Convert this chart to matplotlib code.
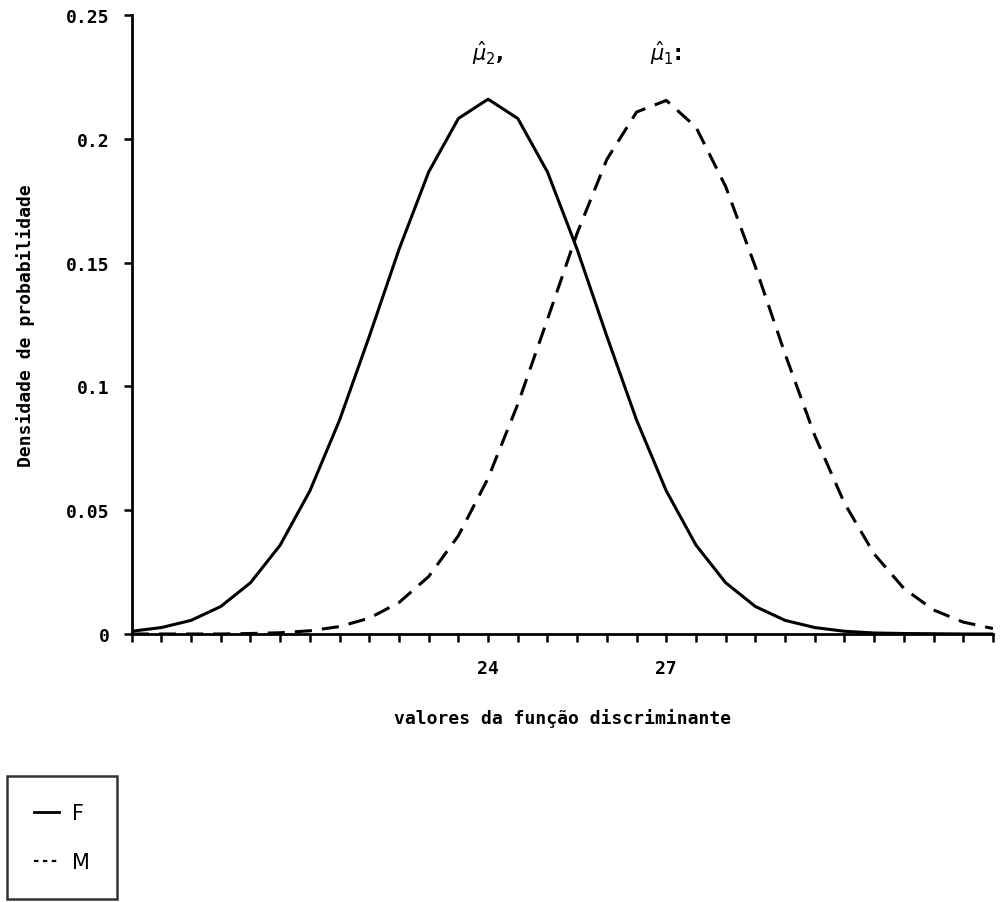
import matplotlib
matplotlib.use('Agg')
import matplotlib.pyplot as plt
from matplotlib.lines import Line2D

# valores da função discriminante (grade de 0.5)
x_vals = [18.0, 18.5, 19.0, 19.5, 20.0, 20.5, 21.0, 21.5, 22.0, 22.5,
          23.0, 23.5, 24.0, 24.5, 25.0, 25.5, 26.0, 26.5, 27.0, 27.5,
          28.0, 28.5, 29.0, 29.5, 30.0, 30.5, 31.0, 31.5, 32.0, 32.5]

# densidade - grupo F (média ~24)
dens_F = [0.0011, 0.0026, 0.0055, 0.0111, 0.0207, 0.0359, 0.0578, 0.0864, 0.1202, 0.1553,
          0.1866, 0.2082, 0.2160, 0.2082, 0.1866, 0.1553, 0.1202, 0.0864, 0.0578, 0.0359,
          0.0207, 0.0111, 0.0055, 0.0026, 0.0011, 0.0004, 0.0002, 0.0001, 0.0000, 0.0000]

# densidade - grupo M (média ~27)
dens_M = [0.0000, 0.0000, 0.0000, 0.0000, 0.0002, 0.0005, 0.0013, 0.0030, 0.0064, 0.0127,
          0.0232, 0.0397, 0.0629, 0.0928, 0.1271, 0.1619, 0.1917, 0.2108, 0.2155, 0.2047,
          0.1807, 0.1483, 0.1131, 0.0801, 0.0528, 0.0323, 0.0184, 0.0097, 0.0048, 0.0022]

y_ticks = [0, 0.05, 0.1, 0.15, 0.2, 0.25]
y_ticklabels = ['0', '0.05', '0.1', '0.15', '0.2', '0.25']
x_labeled = {24.0: '24', 27.0: '27'}
group_names = ['F', 'M']

mono = 'DejaVu Sans Mono'

fig = plt.figure(figsize=(10.03, 9.03), dpi=100)
ax = fig.add_axes([0.1313, 0.2968, 0.8587, 0.6855])

ax.plot(x_vals, dens_F, color='black', lw=2.2)
ax.plot(x_vals, dens_M, color='black', lw=2.2, dashes=(5.6, 3.3))

ax.set_xlim(18, 32.5)
ax.set_ylim(0, 0.25)

for s in ['top', 'right']:
    ax.spines[s].set_visible(False)
for s in ['left', 'bottom']:
    ax.spines[s].set_linewidth(2.0)

ax.set_xticks(x_vals)
ax.set_xticklabels([x_labeled.get(v, '') for v in x_vals],
                   fontfamily=mono, fontweight='bold', fontsize=13)
ax.tick_params(axis='x', direction='out', length=6, width=1.8, pad=12)

ax.set_yticks(y_ticks)
ax.set_yticklabels(y_ticklabels, fontfamily=mono, fontweight='bold', fontsize=13)
ax.tick_params(axis='y', direction='out', length=6, width=1.8, pad=10)

ax.set_xlabel('valores da função discriminante', fontfamily=mono,
              fontweight='bold', fontsize=13, labelpad=22)
ax.set_ylabel('Densidade de probabilidade', fontfamily=mono,
              fontweight='bold', fontsize=13, labelpad=22)

ax.text(24.0, 0.235, r'$\hat{\mu}_{2}$,', ha='center', va='center',
        fontsize=15, fontweight='bold')
ax.text(27.0, 0.235, r'$\hat{\mu}_{1}$:', ha='center', va='center',
        fontsize=15, fontweight='bold')

handles = [Line2D([], [], color='black', lw=2.0),
           Line2D([], [], color='black', lw=1.6, dashes=(2, 2))]
leg = fig.legend(handles, group_names, loc='upper left',
                 bbox_to_anchor=(7 / 1003, 1 - 777 / 903),
                 fontsize=15, frameon=True, fancybox=False,
                 handlelength=1.2, handletextpad=0.6, borderpad=1.3,
                 labelspacing=1.4, borderaxespad=0)
leg.get_frame().set_edgecolor('black')
leg.get_frame().set_linewidth(1.8)

fig.savefig('out.png', dpi=100)
